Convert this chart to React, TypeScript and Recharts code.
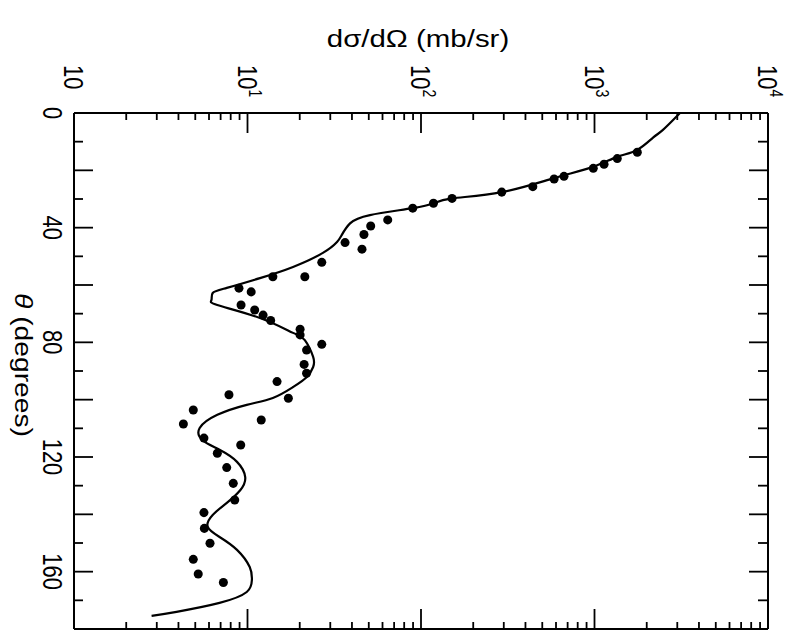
import { ComposedChart, Line, Scatter, XAxis, YAxis } from "recharts";

// theory curve, theta in degrees, cross-section in mb/sr
const curveTheta = [
  0, 5.9, 8.6, 12.9, 15.3, 18.8, 22.7, 27.6, 29.8, 31.5, 33.2, 35.6, 38.5, 42.6, 45, 48.8,
  53.7, 57.6, 61, 62.8, 65.2, 67, 71.5, 76.7, 79.2, 85.1, 88.6, 92.1, 95.6, 99.4,
  101.8, 105.3, 109.9, 114.1, 117.5, 121.7, 127, 131.5, 136, 140.2, 144.4, 147.9,
  152.4, 158.4, 162.9, 167.1, 170.9, 174, 175.4,
];
const curveSigma = [
  3110, 2480, 2175, 1760, 1350, 980, 585, 292, 151, 118, 89.6, 50.8, 39, 34.9, 32.8, 27.2,
  18.3, 11.8, 7.6, 6.3, 6.2, 6.7, 11.8, 18.3, 21.4, 23.9, 23.9, 22, 18.3, 14,
  9.9, 6.7, 5.3, 5.5, 6.9, 8.7, 9.7, 9.1, 7.6, 6.3, 5.9, 6.9,
  8.7, 10.3, 10.6, 9.9, 6.9, 3.9, 2.8,
];

// measured points
const pointTheta = [
  13.7, 15.9, 17.9, 19.3, 22.1, 23.0, 25.7, 27.6, 29.8, 31.5, 33.2, 37.3, 39.4, 42.4,
  45.2, 47.5, 52.1, 57.1, 57.1, 61.1, 62.4, 67.0, 68.7, 70.5, 72.4, 75.4, 77.4, 80.7,
  82.7, 87.7, 90.8, 93.7, 98.3, 99.5, 103.6, 107.1, 108.5, 113.4, 115.8, 118.7, 123.7,
  129.2, 135.0, 139.4, 144.9, 150.1, 155.7, 160.8, 163.8,
];
const pointSigma = [
  1765, 1353, 1135, 984, 667, 585, 441, 292, 151, 118, 89.6, 64.3, 51.3, 46.9,
  36.5, 45.7, 26.8, 21.4, 14.0, 8.93, 10.5, 9.18, 11.0, 12.3, 13.6, 20.1, 20.1, 26.8,
  21.9, 21.2, 21.9, 14.8, 7.82, 17.2, 4.87, 12.0, 4.27, 5.61, 9.14, 6.70, 7.59,
  8.28, 8.44, 5.61, 5.64, 6.08, 4.87, 5.20, 7.26,
];

const sigmaTicks = [
  1, 2, 3, 4, 5, 6, 7, 8, 9, 10, 20, 30, 40, 50, 60, 70, 80, 90,
  100, 200, 300, 400, 500, 600, 700, 800, 900, 1000, 2000, 3000, 4000, 5000,
  6000, 7000, 8000, 9000, 10000,
];
const decadeLabels: Record<number, [string, string]> = {
  1: ["10", ""],
  10: ["10", "1"],
  100: ["10", "2"],
  1000: ["10", "3"],
  10000: ["10", "4"],
};
const thetaTicks = [0, 10, 20, 30, 40, 50, 60, 70, 80, 90, 100, 110, 120, 130, 140, 150, 160, 170, 180];
const thetaLabels = [0, 40, 80, 120, 160];

const curveData = curveTheta.map((t, i) => ({ theta: t, sigma: curveSigma[i] }));
const pointData = pointTheta.map((t, i) => ({ theta: t, sigma: pointSigma[i] }));

const W = 784;
const H = 625;
const PLOT_TOP = 105;
const PLOT_LEFT = 66;
const PLOT_RIGHT = 760;
const PLOT_BOTTOM = 621;
const FONT = "'Liberation Sans', Arial, sans-serif";
const SX = 1.28; // scan is stretched horizontally

function TopTick({ x, payload }: any) {
  const lab = decadeLabels[payload.value];
  const len = lab ? 20 : 7;
  return (
    <g>
      <line x1={x} y1={PLOT_TOP} x2={x} y2={PLOT_TOP + len} stroke="#000" strokeWidth={1.8} />
      {lab && (
        <text
          transform={`translate(${x - 10},57) scale(${SX},1) rotate(90)`}
          fontSize={22}
          fontFamily={FONT}
          fill="#000"
        >
          {lab[0]}
          {lab[1] && (
            <tspan fontSize={14} dy={-9}>
              {lab[1]}
            </tspan>
          )}
        </text>
      )}
    </g>
  );
}

function BottomTick({ x, payload }: any) {
  const len = decadeLabels[payload.value] ? 20 : 7;
  return <line x1={x} y1={PLOT_BOTTOM} x2={x} y2={PLOT_BOTTOM - len} stroke="#000" strokeWidth={1.8} />;
}

function LeftTick({ y, payload }: any) {
  const v = payload.value;
  const len = v % 20 === 0 ? 19 : 9;
  return (
    <g>
      <line x1={PLOT_LEFT} y1={y} x2={PLOT_LEFT + len} y2={y} stroke="#000" strokeWidth={1.8} />
      {thetaLabels.includes(v) && (
        <text
          transform={`translate(35,${y}) scale(${SX},1) rotate(90)`}
          fontSize={22}
          fontFamily={FONT}
          textAnchor="middle"
          fill="#000"
        >
          {v}
        </text>
      )}
    </g>
  );
}

function RightTick({ y, payload }: any) {
  const len = payload.value % 20 === 0 ? 19 : 10;
  return <line x1={PLOT_RIGHT} y1={y} x2={PLOT_RIGHT - len} y2={y} stroke="#000" strokeWidth={1.8} />;
}

export default function App() {
  return (
    <div style={{ position: "relative", width: W, height: H, background: "#fff" }}>
      <ComposedChart
        width={W}
        height={H}
        layout="vertical"
        margin={{ top: 65, right: 23, bottom: 3, left: 26 }}
      >
        <XAxis
          xAxisId={0}
          type="number"
          dataKey="sigma"
          scale="log"
          domain={[1, 10000]}
          allowDataOverflow
          orientation="top"
          height={40}
          ticks={sigmaTicks}
          interval={0}
          tickLine={false}
          axisLine={{ stroke: "#000", strokeWidth: 2 }}
          tick={(p: any) => <TopTick {...p} />}
        />
        <XAxis
          xAxisId="b"
          type="number"
          dataKey="sigma"
          scale="log"
          domain={[1, 10000]}
          allowDataOverflow
          orientation="bottom"
          height={1}
          ticks={sigmaTicks}
          interval={0}
          tickLine={false}
          axisLine={{ stroke: "#000", strokeWidth: 2 }}
          tick={(p: any) => <BottomTick {...p} />}
        />
        <YAxis
          yAxisId={0}
          type="number"
          dataKey="theta"
          domain={[0, 180]}
          allowDataOverflow
          width={40}
          ticks={thetaTicks}
          interval={0}
          tickLine={false}
          axisLine={{ stroke: "#000", strokeWidth: 2 }}
          tick={(p: any) => <LeftTick {...p} />}
        />
        <YAxis
          yAxisId="r"
          type="number"
          dataKey="theta"
          orientation="right"
          domain={[0, 180]}
          allowDataOverflow
          width={1}
          ticks={thetaTicks}
          interval={0}
          tickLine={false}
          axisLine={{ stroke: "#000", strokeWidth: 2 }}
          tick={(p: any) => <RightTick {...p} />}
        />
        <Line
          data={curveData}
          dataKey="sigma"
          type="natural"
          stroke="#000"
          strokeWidth={2.2}
          dot={false}
          isAnimationActive={false}
        />
        <Scatter data={pointData} fill="#000" shape="circle" isAnimationActive={false} />
      </ComposedChart>
      <svg
        width={W}
        height={H}
        style={{ position: "absolute", left: 0, top: 0, pointerEvents: "none" }}
      >
        <text
          transform={`translate(410,38.5) scale(${SX},1)`}
          fontSize={23}
          fontFamily={FONT}
          textAnchor="middle"
          fill="#000"
        >
          dσ/dΩ (mb/sr)
        </text>
        <text
          transform={`translate(7,357) scale(${SX},1) rotate(90)`}
          fontSize={19}
          fontFamily={FONT}
          textAnchor="middle"
          textLength={144}
          lengthAdjust="spacingAndGlyphs"
          fill="#000"
        >
          <tspan fontStyle="italic">θ</tspan> (degrees)
        </text>
      </svg>
    </div>
  );
}
